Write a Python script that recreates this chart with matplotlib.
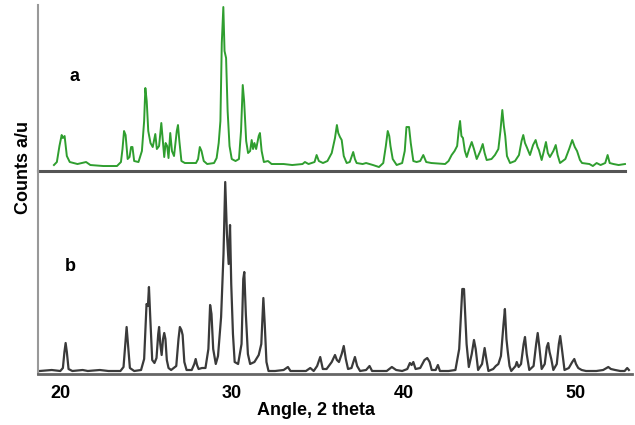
import matplotlib
matplotlib.use("Agg")
import matplotlib.pyplot as plt

plt.rcParams['font.family'] = ['Liberation Sans', 'DejaVu Sans']

# patron a (verde): 2 theta / cuentas (u.a.)
a_theta = [19.63, 19.80, 19.95, 20.08, 20.15, 20.25, 20.38, 20.55, 21.0, 21.50, 21.75, 22.5, 23.3,
           23.53, 23.62, 23.71, 23.80, 23.92, 24.03, 24.12, 24.20, 24.30, 24.55, 24.75, 24.88, 24.95,
           25.03, 25.12, 25.25, 25.38, 25.53, 25.62, 25.75, 25.88, 25.97, 26.05, 26.13, 26.22, 26.30,
           26.40, 26.50, 26.62, 26.78, 26.85, 26.93, 27.05, 27.25, 27.9, 28.02, 28.12, 28.22, 28.35,
           28.55, 28.95, 29.10, 29.22, 29.32, 29.40, 29.49, 29.56, 29.65, 29.74, 29.85, 29.98, 30.2,
           30.40, 30.52, 30.62, 30.70, 30.82, 30.93, 31.05, 31.14, 31.22, 31.30, 31.40, 31.55, 31.62,
           31.72, 31.85, 32.09, 32.3, 33.0, 33.5, 34.1, 34.24, 34.45, 34.80, 34.92, 35.05, 35.29,
           35.55, 35.80, 35.99, 36.10, 36.18, 36.28, 36.38, 36.50, 36.67, 36.85, 36.95, 37.05, 37.15,
           37.25, 37.6, 37.8, 38.2, 38.55, 38.8, 38.95, 39.06, 39.15, 39.22, 39.35, 39.58, 39.9,
           40.05, 40.15, 40.30, 40.40, 40.55, 40.74, 40.95, 41.13, 41.30, 41.6, 42.4, 42.6, 42.78,
           42.95, 43.10, 43.20, 43.27, 43.35, 43.44, 43.55, 43.66, 43.80, 43.95, 44.08, 44.24, 44.45,
           44.59, 44.70, 44.82, 45.10, 45.30, 45.50, 45.62, 45.73, 45.82, 45.90, 46.00, 46.18, 46.47,
           46.70, 46.85, 46.95, 47.05, 47.15, 47.34, 47.52, 47.67, 47.78, 47.86, 48.02, 48.15, 48.27,
           48.38, 48.50, 48.70, 48.84, 48.95, 49.09, 49.40, 49.62, 49.80, 49.95, 50.08, 50.25, 50.37,
           50.8, 51.0, 51.22, 51.45, 51.72, 51.86, 51.98, 52.2, 52.5, 52.87]
a_counts = [6, 9, 25, 36, 33, 35, 15, 9, 7, 9, 6, 5, 5,
            9, 22, 40, 36, 12, 14, 24, 24, 10, 9, 20, 50, 83,
            70, 40, 28, 24, 37, 22, 25, 48, 30, 14, 28, 25, 13,
            38, 20, 15, 40, 46, 30, 10, 8, 8, 12, 24, 20, 10,
            7, 8, 13, 28, 50, 128, 164, 120, 113, 60, 25, 12, 10,
            12, 40, 86, 70, 30, 18, 20, 31, 22, 28, 22, 35, 38,
            20, 9, 10, 7, 7, 6, 7, 9, 7, 9, 16, 10, 8,
            10, 18, 33, 46, 38, 34, 31, 15, 8, 9, 14, 19, 12,
            8, 7, 8, 6, 4, 8, 25, 40, 35, 25, 12, 6, 8,
            20, 44, 44, 28, 10, 9, 10, 16, 9, 8, 7, 10, 16,
            20, 25, 42, 50, 35, 33, 20, 14, 22, 29, 22, 12, 20,
            27, 18, 11, 12, 16, 22, 40, 61, 45, 35, 15, 8, 10,
            16, 30, 36, 28, 24, 16, 26, 31, 24, 21, 11, 20, 29,
            18, 14, 20, 26, 16, 8, 12, 22, 31, 24, 20, 11, 8,
            7, 5, 8, 6, 8, 16, 8, 7, 6, 7]

# patron b (negro)
b_theta = [18.8, 19.5, 20.0, 20.15, 20.24, 20.31, 20.38, 20.48, 20.7, 21.3, 21.6, 22.3, 22.8, 23.5,
           23.68, 23.78, 23.86, 23.94, 24.05, 24.3, 24.7, 24.88, 25.02, 25.10, 25.16, 25.24, 25.35,
           25.48, 25.60, 25.70, 25.75, 25.82, 25.90, 25.98, 26.05, 26.12, 26.20, 26.30, 26.45, 26.75,
           26.88, 26.96, 27.05, 27.12, 27.22, 27.35, 27.65, 27.80, 27.88, 27.96, 28.05, 28.25, 28.45,
           28.62, 28.72, 28.80, 28.90, 29.05, 29.18, 29.36, 29.50, 29.60, 29.70, 29.80, 29.88, 29.95,
           30.05, 30.15, 30.35, 30.55, 30.65, 30.71, 30.80, 30.92, 31.05, 31.3, 31.55, 31.70, 31.82,
           31.90, 32.0, 32.12, 32.5, 33.0, 33.25, 33.4, 34.3, 34.55, 34.75, 34.95, 35.13, 35.28,
           35.5, 35.80, 35.99, 36.10, 36.22, 36.38, 36.50, 36.62, 36.75, 36.95, 37.15, 37.28, 37.45,
           37.8, 38.0, 38.15, 38.6, 39.0, 39.3, 39.55, 39.9, 40.2, 40.35, 40.45, 40.55, 40.68,
           40.95, 41.20, 41.36, 41.50, 41.62, 41.85, 41.98, 42.10, 42.6, 43.0, 43.22, 43.40, 43.50,
           43.65, 43.78, 43.95, 44.08, 44.18, 44.32, 44.55, 44.70, 44.80, 44.92, 45.2, 45.35, 45.50,
           45.65, 45.80, 45.88, 45.97, 46.05, 46.15, 46.25, 46.50, 46.57, 46.68, 46.82, 46.97, 47.05,
           47.15, 47.30, 47.55, 47.70, 47.79, 47.88, 48.02, 48.20, 48.32, 48.40, 48.48, 48.58, 48.70,
           48.90, 49.02, 49.10, 49.20, 49.35, 49.60, 49.80, 49.92, 50.02, 50.15, 50.35, 50.6, 51.2,
           51.6, 51.80, 51.90, 52.05, 52.3, 52.6, 52.85, 53.0, 53.1]
b_counts = [3, 4, 3, 6, 22, 31, 22, 5, 3, 4, 3, 4, 3, 3,
            7, 30, 47, 30, 6, 3, 4, 15, 70, 68, 87, 55, 14,
            11, 16, 40, 47, 30, 19, 35, 41, 35, 14, 6, 4, 8,
            35, 47, 44, 39, 12, 4, 4, 10, 15, 9, 5, 6, 6,
            25, 69, 60, 25, 10, 18, 57, 120, 192, 140, 110, 149, 90,
            40, 12, 10, 30, 95, 102, 60, 20, 10, 12, 19, 30, 76,
            50, 12, 3, 3, 4, 7, 3, 3, 6, 3, 8, 17, 5,
            5, 12, 19, 14, 12, 20, 28, 15, 5, 6, 17, 8, 3,
            4, 8, 3, 3, 3, 7, 4, 3, 5, 11, 9, 12, 5,
            6, 14, 16, 12, 4, 4, 9, 3, 3, 4, 25, 85, 85,
            30, 7, 20, 34, 25, 4, 10, 26, 15, 3, 5, 8, 10,
            18, 50, 65, 35, 22, 8, 3, 8, 12, 7, 10, 30, 37,
            20, 4, 8, 30, 41, 28, 5, 10, 27, 31, 22, 15, 4,
            10, 30, 38, 25, 4, 6, 12, 15, 10, 6, 4, 3, 3,
            4, 6, 7, 5, 4, 3, 3, 6, 4]

ticks = [20, 30, 40, 50]
tick_labels = ['20', '30', '40', '50']

fig = plt.figure(figsize=(6.35, 4.25), dpi=100)
ax_a = fig.add_axes([0.0598, 0.5976, 0.9355, 0.3906])
ax_b = fig.add_axes([0.0598, 0.12, 0.9355, 0.4776])

xmin, xmax = 18.7, 53.28

ax_a.plot(a_theta, a_counts, color='#2f9e2f', lw=1.4)
ax_a.set_xlim(xmin, xmax)
ax_a.set_ylim(0, 166)
ax_a.axhline(0, xmin=0, xmax=0.988, color='#555555', lw=2.2, clip_on=False)

ax_b.plot(b_theta, b_counts, color='#3a3a3a', lw=1.6)
ax_b.set_xlim(xmin, xmax)
ax_b.set_ylim(0, 203)

for ax in (ax_a, ax_b):
    for s in ('top', 'right'):
        ax.spines[s].set_visible(False)
    ax.spines['left'].set_color('#999999')
    ax.spines['left'].set_linewidth(1.5)
    ax.set_yticks([])
    ax.patch.set_alpha(0)

ax_a.spines['bottom'].set_visible(False)
ax_a.set_xticks([])

ax_b.spines['bottom'].set_color('#666666')
ax_b.spines['bottom'].set_linewidth(2)
ax_b.set_xticks(ticks)
ax_b.set_xticklabels(tick_labels, fontsize=13, fontweight='bold')
ax_b.tick_params(axis='x', length=0, pad=8)

fig.text(0.118, 0.819, 'a', fontsize=13, fontweight='bold', ha='center', va='center')
fig.text(0.110, 0.372, 'b', fontsize=13, fontweight='bold', ha='center', va='center')
fig.text(0.037, 0.607, 'Counts a/u', fontsize=13, fontweight='bold', rotation=90,
         ha='center', va='center')
fig.text(0.497, 0.035, 'Angle, 2 theta', fontsize=13, fontweight='bold', ha='center', va='center')

fig.savefig('out.png', dpi=100)
